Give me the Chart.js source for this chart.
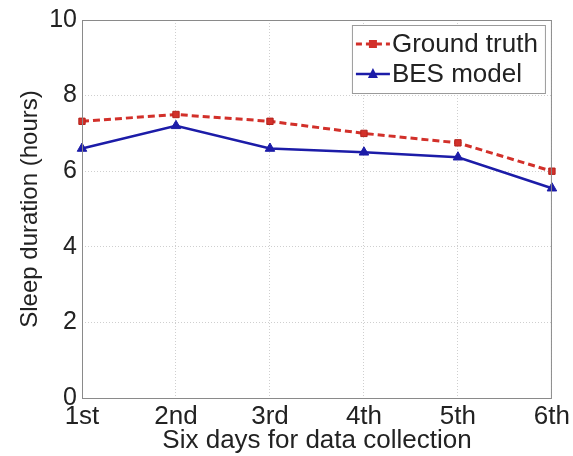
<!DOCTYPE html>
<html>
<head>
<meta charset="utf-8">
<script src="https://cdn.jsdelivr.net/npm/chart.js@4"></script>
<style>
  html, body { margin: 0; padding: 0; background: #fff; }
  #wrap { width: 573px; height: 456px; }
</style>
</head>
<body>
<div id="wrap"><canvas id="sleepChart" width="573" height="456"></canvas></div>
<script>
const days = ["1st", "2nd", "3rd", "4th", "5th", "6th"];
const groundTruth = [7.32, 7.5, 7.32, 7.0, 6.75, 6.0];
const besModel = [6.6, 7.2, 6.6, 6.5, 6.37, 5.55];
const yTicks = [0, 2, 4, 6, 8, 10];

const FONT = "'Liberation Sans', Arial, Helvetica, sans-serif";
const TEXT = "#222";
const RED = "#d2302a";
const BLUE = "#1c1ca8";

// box around plot + MATLAB style legend in upper right
const boxAndLegend = {
  id: "boxAndLegend",
  afterDraw(chart) {
    const { ctx, chartArea: a } = chart;
    ctx.save();
    ctx.strokeStyle = "#8a8a8a";
    ctx.lineWidth = 1;
    ctx.strokeRect(a.left + 0.5, a.top + 0.5, a.right - a.left - 1, a.bottom - a.top);

    const bx = a.right - 200, by = a.top + 5, bw = 193, bh = 68;
    ctx.fillStyle = "#fff";
    ctx.fillRect(bx, by, bw, bh);
    ctx.strokeStyle = "#9a9a9a";
    ctx.strokeRect(bx + 0.5, by + 0.5, bw, bh);

    const entries = [
      { text: "Ground truth", color: RED, dash: [6, 4], width: 3, marker: "rect" },
      { text: "BES model", color: BLUE, dash: [], width: 2.5, marker: "triangle" }
    ];
    entries.forEach((e, i) => {
      const y = by + 19 + i * 30;
      const x0 = bx + 4, x1 = bx + 38;
      ctx.strokeStyle = e.color;
      ctx.lineWidth = e.width;
      ctx.setLineDash(e.dash);
      ctx.beginPath();
      ctx.moveTo(x0, y);
      ctx.lineTo(x1, y);
      ctx.stroke();
      ctx.setLineDash([]);
      const cx = (x0 + x1) / 2;
      ctx.fillStyle = e.color;
      if (e.marker === "rect") {
        ctx.fillRect(cx - 4, y - 4, 8, 8);
      } else {
        ctx.beginPath();
        ctx.moveTo(cx, y - 6);
        ctx.lineTo(cx + 5, y + 4);
        ctx.lineTo(cx - 5, y + 4);
        ctx.closePath();
        ctx.fill();
      }
      ctx.fillStyle = TEXT;
      ctx.font = "26px " + FONT;
      ctx.textAlign = "left";
      ctx.textBaseline = "middle";
      ctx.fillText(e.text, x1 + 2, y + 1);
    });
    ctx.restore();
  }
};

const ctx = document.getElementById("sleepChart").getContext("2d");
new Chart(ctx, {
  type: "line",
  data: {
    labels: days,
    datasets: [
      {
        label: "Ground truth",
        data: groundTruth,
        borderColor: RED,
        backgroundColor: RED,
        borderWidth: 3,
        borderDash: [7, 4],
        pointStyle: "rect",
        pointRadius: 4.5,
        pointBorderColor: "#b5231c",
        pointBorderWidth: 1,
        tension: 0,
        fill: false
      },
      {
        label: "BES model",
        data: besModel,
        borderColor: BLUE,
        backgroundColor: BLUE,
        borderWidth: 2.5,
        pointStyle: "triangle",
        pointRadius: 5.5,
        pointBorderWidth: 1,
        tension: 0,
        fill: false
      }
    ]
  },
  options: {
    responsive: false,
    animation: false,
    layout: { padding: { top: 18, right: 19, bottom: 0, left: 0 } },
    plugins: {
      legend: { display: false },
      tooltip: { enabled: false }
    },
    scales: {
      x: {
        type: "category",
        offset: false,
        grid: { color: "#cfcfcf", drawTicks: false },
        border: { display: false, dash: [1, 2] },
        ticks: { color: TEXT, font: { family: FONT, size: 26 }, padding: 3, maxRotation: 0, autoSkip: false },
        title: {
          display: true,
          text: "Six days for data collection",
          color: TEXT,
          font: { family: FONT, size: 26 },
          padding: { top: 0, bottom: 0 }
        },
        afterFit(scale) { scale.height = 58; }
      },
      y: {
        min: 0,
        max: 10,
        grid: { color: "#cfcfcf", drawTicks: false },
        border: { display: false, dash: [1, 2] },
        afterBuildTicks(scale) { scale.ticks = yTicks.map(v => ({ value: v })); },
        ticks: { color: TEXT, font: { family: FONT, size: 25 }, padding: 5 },
        title: {
          display: true,
          text: "Sleep duration (hours)",
          color: TEXT,
          font: { family: FONT, size: 24 },
          padding: { top: 16, bottom: 0 }
        },
        afterFit(scale) { scale.width = 82; }
      }
    }
  },
  plugins: [boxAndLegend]
});
</script>
</body>
</html>
